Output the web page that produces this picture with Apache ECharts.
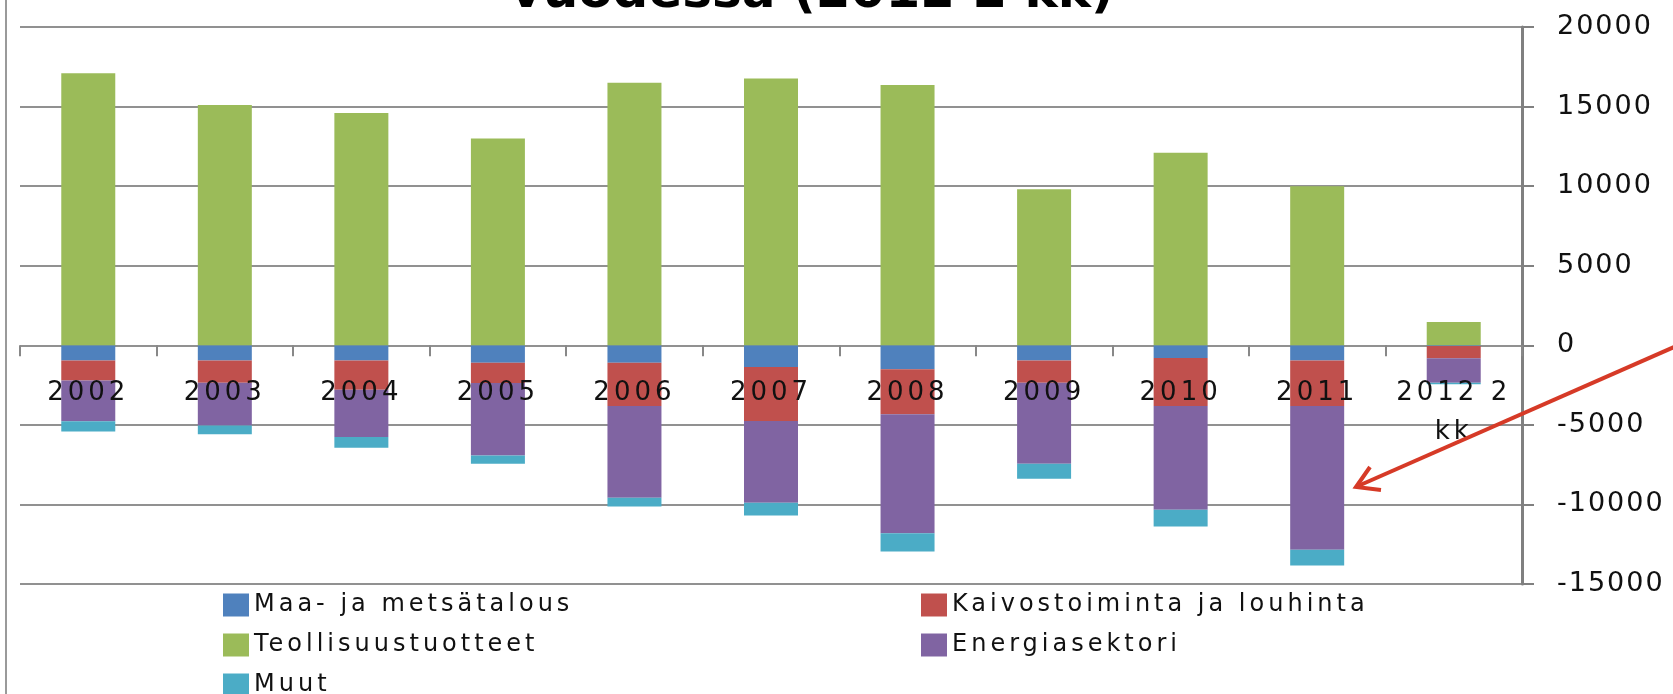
<!DOCTYPE html>
<html>
<head>
<meta charset="utf-8">
<script src="https://cdn.jsdelivr.net/npm/echarts@6/dist/echarts.min.js"></script>
<style>
html,body{margin:0;padding:0;background:#fff;}
#chart{width:1673px;height:694px;}
</style>
</head>
<body>
<div id="chart"></div>
<script>
const years = ['2002','2003','2004','2005','2006','2007','2008','2009','2010','2011','2012 2\nkk'];
const maa = [-950,-950,-950,-1090,-1090,-1360,-1510,-950,-800,-950,-40];
const kaivos = [-1260,-1400,-1840,-1280,-2730,-3400,-2830,-1400,-3020,-2870,-780];
const teollisuus = [17100,15100,14600,13000,16500,16770,16350,9800,12100,10000,1470];
const energia = [-2560,-2690,-2980,-4550,-5760,-5130,-7470,-5100,-6520,-9030,-1530];
const muut = [-650,-550,-670,-520,-550,-800,-1150,-940,-1050,-990,-100];
const yTicks = [-15000,-10000,-5000,0,5000,10000,15000,20000];
const names = ['Maa- ja metsätalous','Kaivostoiminta ja louhinta','Teollisuustuotteet','Energiasektori','Muut'];
const colors = ['#4F81BD','#C0504D','#9BBB59','#8064A2','#4BACC6'];
const titleText = 'vuodessa (2012 2 kk)';

// widen regular (non-bold) text a little, like the stretched original
(function(){
  const proto = CanvasRenderingContext2D.prototype;
  const orig = proto.fillText;
  proto.fillText = function(t, x, y, w){
    if ('letterSpacing' in this) {
      let sp = '4px';
      if (/bold/.test(this.font)) sp = '0px';
      else if (/27px/.test(this.font)) sp = '2px';
      this.letterSpacing = sp;
    }
    return w === undefined ? orig.call(this, t, x, y) : orig.call(this, t, x, y, w);
  };
})();

const chart = echarts.init(document.getElementById('chart'));
const seriesData = [maa, kaivos, teollisuus, energia, muut];
const FONT = 'DejaVu Sans';
const legendCommon = {
  orient:'vertical', padding:0, itemWidth:26, itemHeight:23, itemGap:16, icon:'rect',
  height:140, selectedMode:false,
  textStyle:{fontSize:24, fontFamily:FONT, color:'#111'}
};
chart.setOption({
  animation:false,
  backgroundColor:'#fff',
  grid:{left:20, right:151, top:27, bottom:110, containLabel:false},
  legend:[
    Object.assign({data:[names[0],names[2],names[4]], left:223, top:593}, legendCommon),
    Object.assign({data:[names[1],names[3]], left:921, top:593}, legendCommon)
  ],
  xAxis:{
    type:'category', data:years, z:5,
    axisLine:{show:true, onZero:true, lineStyle:{color:'#999', width:2, opacity:0}},
    axisTick:{show:true, length:11, lineStyle:{color:'#888', width:2}},
    axisLabel:{interval:0, margin:-210, fontSize:26, fontFamily:FONT, color:'#111', lineHeight:39},
    splitLine:{show:false}
  },
  yAxis:{
    type:'value', position:'right', min:yTicks[0], max:yTicks[yTicks.length-1], interval:5000,
    axisLine:{show:true, lineStyle:{color:'#808080', width:3}},
    axisTick:{show:true, length:12, lineStyle:{color:'#808080', width:2}},
    splitLine:{show:true, lineStyle:{color:'#919191', width:2}},
    axisLabel:{margin:35, fontSize:27, fontFamily:FONT, color:'#111', formatter:function(v){return String(v);}}
  },
  series: names.map(function(n,i){
    return {name:n, type:'bar', stack:'total', data:seriesData[i], barWidth:54,
      itemStyle:{color:colors[i]}, emphasis:{disabled:true}};
  }),
  graphic:[
    {type:'line', shape:{x1:6, y1:0, x2:6, y2:694}, style:{stroke:'#9a9a9a', lineWidth:2}, z:10},
    {type:'text', x:812, y:-6, z:10, style:{text:titleText, fontSize:50, fontWeight:'bold', fontFamily:FONT, fill:'#000', textAlign:'center', textVerticalAlign:'middle'}},
    {type:'line', shape:{x1:1690, y1:340, x2:1358, y2:486}, style:{stroke:'#D63A27', lineWidth:4}, z:20},
    {type:'polyline', shape:{points:[[1370,467],[1356,487],[1381,490]]}, style:{stroke:'#D63A27', lineWidth:4, fill:null, lineJoin:'miter'}, z:20}
  ]
});
</script>
</body>
</html>
